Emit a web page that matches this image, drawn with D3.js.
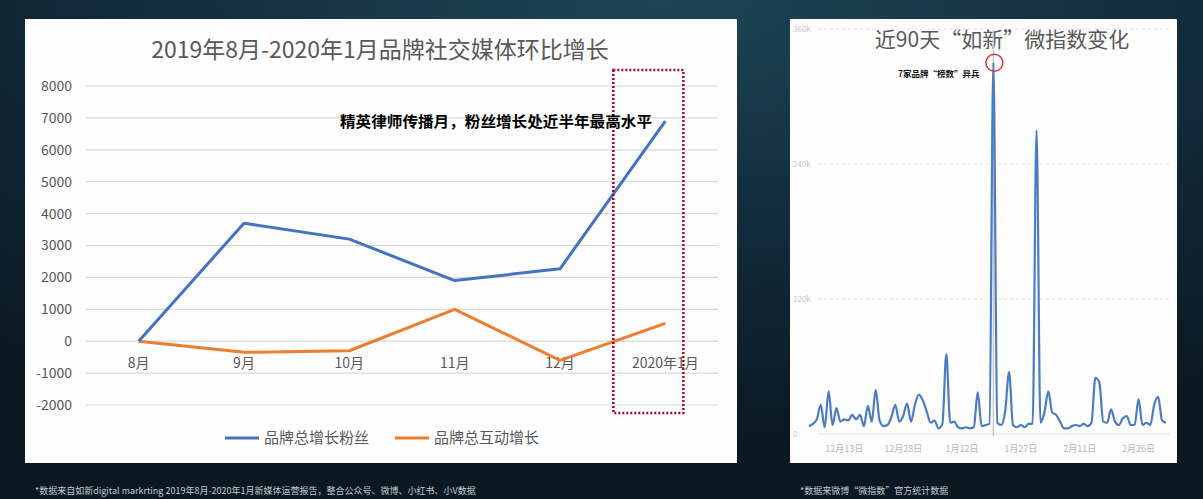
<!DOCTYPE html>
<html>
<head>
<meta charset="utf-8">
<script src="https://cdn.jsdelivr.net/npm/d3@7"></script>
<style>
  html, body { margin: 0; padding: 0; background: #0c1c26; }
  svg { display: block; font-family: "Noto Sans CJK SC", "Noto Sans", sans-serif; }
</style>
</head>
<body>
<svg id="chart" width="1203" height="499"></svg>
<script>
// 左图数据
const months = ["8月", "9月", "10月", "11月", "12月", "2020年1月"];
const fansGrowth = [0, 3700, 3200, 1900, 2270, 6900];
const interactGrowth = [0, -350, -300, 1000, -600, 560];
const yTicksLeft = [-2000, -1000, 0, 1000, 2000, 3000, 4000, 5000, 6000, 7000, 8000];

// 右图数据 (2019-12-04 起，每天一个值，单位 k)
const startDay = "2019-12-04";
const weiIndex = [
  7, 9, 13, 26, 6, 38, 8, 23, 11, 13,
  12, 17, 13, 17, 7, 25, 11, 39, 12, 7,
  8, 15, 26, 11, 16, 27, 11, 26, 35, 30,
  20, 10, 12, 5, 9, 71, 10, 11, 6, 5,
  6, 5, 6, 37, 7, 8, 9, 330, 10, 8,
  20, 55, 8, 6, 8, 6, 9, 9, 270, 10,
  19, 38, 19, 17, 11, 5, 5, 7, 8, 7,
  9, 7, 10, 50, 46, 11, 10, 22, 11, 8,
  14, 16, 8, 8, 31, 8, 10, 8, 26, 33,
  12, 10
];
const dateTicks = ["2019-12-13", "2019-12-28", "2020-01-12", "2020-01-27", "2020-02-11", "2020-02-26"];
const yTicksRight = [0, 120, 240, 360];

const svg = d3.select("#chart");
const defs = svg.append("defs");

// 背景
const bg = defs.append("radialGradient")
  .attr("id", "bg")
  .attr("cx", "55%").attr("cy", "0%").attr("r", "90%");
bg.append("stop").attr("offset", "0%").attr("stop-color", "#1d4554");
bg.append("stop").attr("offset", "55%").attr("stop-color", "#11293a");
bg.append("stop").attr("offset", "100%").attr("stop-color", "#0a1822");
svg.append("rect")
  .attr("width", 1203).attr("height", 499)
  .attr("fill", "url(#bg)");

// ---------- 左图 ----------
svg.append("rect")
  .attr("x", 25).attr("y", 19)
  .attr("width", 712).attr("height", 444)
  .attr("fill", "#fdfdfd");

const x = d3.scalePoint().domain(months).range([86, 718]).padding(0.5);
const y = d3.scaleLinear().domain([-2000, 8000]).range([405, 86]);

svg.append("g")
  .selectAll("line")
  .data(yTicksLeft)
  .join("line")
  .attr("x1", 86).attr("x2", 718)
  .attr("y1", d => y(d)).attr("y2", d => y(d))
  .attr("stroke", "#d9d9d9")
  .attr("stroke-width", 1.2);

svg.append("g")
  .selectAll("text")
  .data(yTicksLeft)
  .join("text")
  .attr("x", 72)
  .attr("y", d => y(d))
  .attr("dy", "0.35em")
  .attr("text-anchor", "end")
  .attr("font-size", 14)
  .attr("fill", "#595959")
  .text(d => d);

svg.append("g")
  .selectAll("text")
  .data(months)
  .join("text")
  .attr("x", d => x(d))
  .attr("y", 368)
  .attr("text-anchor", "middle")
  .attr("font-size", 14)
  .attr("fill", "#595959")
  .text(d => d);

svg.append("text")
  .attr("x", 380).attr("y", 58)
  .attr("text-anchor", "middle")
  .attr("font-size", 23)
  .attr("fill", "#595959")
  .text("2019年8月-2020年1月品牌社交媒体环比增长");

const lineL = d3.line()
  .x((d, i) => x(months[i]))
  .y(d => y(d));

svg.append("path")
  .datum(interactGrowth)
  .attr("d", lineL)
  .attr("fill", "none")
  .attr("stroke", "#ed7d31")
  .attr("stroke-width", 3)
  .attr("stroke-linejoin", "round");

svg.append("path")
  .datum(fansGrowth)
  .attr("d", lineL)
  .attr("fill", "none")
  .attr("stroke", "#4472c4")
  .attr("stroke-width", 3)
  .attr("stroke-linejoin", "round");

// 红色虚线框 + 注释
const last = months[months.length - 1];
svg.append("rect")
  .attr("x", x(last) - 52).attr("y", 70)
  .attr("width", 70).attr("height", 343)
  .attr("fill", "none")
  .attr("stroke", "#b0001e")
  .attr("stroke-width", 2.5)
  .attr("stroke-dasharray", "2,2");

svg.append("text")
  .attr("x", 340).attr("y", 127)
  .attr("font-size", 15)
  .attr("font-weight", "bold")
  .attr("fill", "#000")
  .attr("textLength", 312)
  .attr("lengthAdjust", "spacingAndGlyphs")
  .text("精英律师传播月，粉丝增长处近半年最高水平");

// 图例
const legend = [
  { name: "品牌总增长粉丝", color: "#4472c4", x: 225 },
  { name: "品牌总互动增长", color: "#ed7d31", x: 395 }
];
const lg = svg.append("g")
  .selectAll("g")
  .data(legend)
  .join("g")
  .attr("transform", d => `translate(${d.x},438)`);
lg.append("line")
  .attr("x1", 0).attr("x2", 34)
  .attr("stroke", d => d.color)
  .attr("stroke-width", 3);
lg.append("text")
  .attr("x", 39).attr("dy", "0.35em")
  .attr("font-size", 15)
  .attr("fill", "#595959")
  .text(d => d.name);

svg.append("text")
  .attr("x", 35).attr("y", 494)
  .attr("font-size", 9)
  .attr("fill", "#c4cad0")
  .text("*数据来自如新digital markrting 2019年8月-2020年1月新媒体运营报告，整合公众号、微博、小红书、小V数据");

// ---------- 右图 ----------
svg.append("rect")
  .attr("x", 790).attr("y", 19)
  .attr("width", 387).attr("height", 444)
  .attr("fill", "#fdfdfd");

const parse = d3.timeParse("%Y-%m-%d");
const t0 = parse(startDay);
const days = weiIndex.map((v, i) => d3.timeDay.offset(t0, i));
const xr = d3.scaleTime().domain([days[0], days[days.length - 1]]).range([809, 1166]);
const yr = d3.scaleLinear().domain([0, 360]).range([434, 29]);

svg.append("g")
  .selectAll("line")
  .data(yTicksRight)
  .join("line")
  .attr("x1", 818).attr("x2", 1170)
  .attr("y1", d => yr(d)).attr("y2", d => yr(d))
  .attr("stroke", "#e3e3e3")
  .attr("stroke-width", 1)
  .attr("stroke-dasharray", d => d === 0 ? null : "3,3");

svg.append("g")
  .selectAll("text")
  .data(yTicksRight)
  .join("text")
  .attr("x", 793)
  .attr("y", d => yr(d))
  .attr("dy", "0.35em")
  .attr("font-size", 8)
  .attr("fill", "#c8c8c8")
  .text(d => d === 0 ? "0" : d + "k");

const fmt = d3.timeFormat("%-m月%-d日");
svg.append("g")
  .selectAll("text")
  .data(dateTicks.map(parse))
  .join("text")
  .attr("x", d => xr(d))
  .attr("y", 452)
  .attr("text-anchor", "middle")
  .attr("font-size", 9)
  .attr("fill", "#b8b8b8")
  .text(d => fmt(d));

svg.append("text")
  .attr("x", 1002).attr("y", 47)
  .attr("text-anchor", "middle")
  .attr("font-size", 21)
  .attr("fill", "#595959")
  .text("近90天“如新”微指数变化");

// 峰值提示线
const peakIdx = weiIndex.indexOf(d3.max(weiIndex));
svg.append("line")
  .attr("x1", xr(days[peakIdx])).attr("x2", xr(days[peakIdx]))
  .attr("y1", 30).attr("y2", 436)
  .attr("stroke", "#c8c8c8")
  .attr("stroke-width", 1.5);

const lineR = d3.line()
  .x((d, i) => xr(days[i]))
  .y(d => yr(d))
  .curve(d3.curveMonotoneX);

svg.append("path")
  .datum(weiIndex)
  .attr("d", lineR)
  .attr("fill", "none")
  .attr("stroke", "#4a7cc4")
  .attr("stroke-width", 2.2)
  .attr("stroke-linejoin", "round");

svg.append("circle")
  .attr("cx", xr(days[peakIdx]) + 1)
  .attr("cy", yr(weiIndex[peakIdx]))
  .attr("r", 8.5)
  .attr("fill", "none")
  .attr("stroke", "#e0303a")
  .attr("stroke-width", 1.5);

svg.append("text")
  .attr("x", 898).attr("y", 77)
  .attr("font-size", 8.5)
  .attr("font-weight", "bold")
  .attr("fill", "#111")
  .text("7家品牌“榜数”异兵");

svg.append("text")
  .attr("x", 800).attr("y", 494)
  .attr("font-size", 9)
  .attr("fill", "#c4cad0")
  .text("*数据来微博“微指数”官方统计数据");
</script>
</body>
</html>
